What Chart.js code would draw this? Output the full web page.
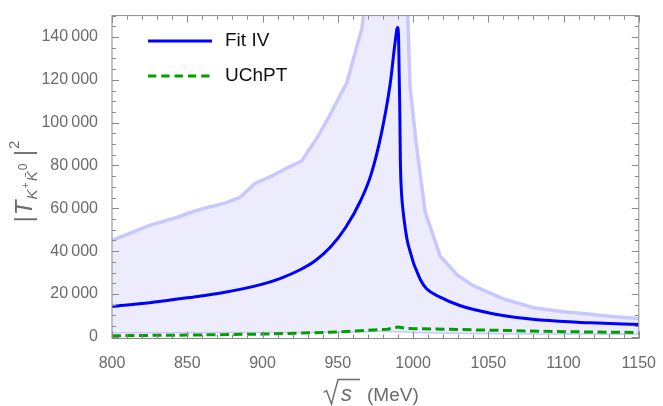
<!DOCTYPE html>
<html>
<head>
<meta charset="utf-8">
<script src="https://cdn.jsdelivr.net/npm/chart.js@4"></script>
<style>
  html, body { margin: 0; padding: 0; background: #fff; }
  #wrap { width: 663px; height: 406px; }
</style>
</head>
<body>
<div id="wrap"><canvas id="chart" width="663" height="406"></canvas></div>
<script>
// error band (upper / lower edge), same x grid for both
const bandX  = [800, 825, 843, 854, 864, 875, 885, 895, 906, 916, 926, 935, 939, 945, 949, 956, 966, 968, 980, 996, 998, 1002, 1008, 1018, 1027, 1029, 1040, 1060, 1080, 1100, 1115, 1130, 1150];
const bandHi = [45000, 52000, 55700, 58500, 60500, 62400, 65100, 71600, 75000, 78800, 82100, 91600, 96200, 103900, 109300, 118600, 144000, 155000, 300000, 160000, 117000, 90900, 58500, 37700, 30800, 29000, 23900, 17700, 13600, 11700, 10800, 9600, 8500];
const bandLo = [2200, 2200, 2200, 2200, 2300, 2300, 2300, 2300, 2300, 2400, 2400, 2400, 2500, 2500, 2500, 2600, 2700, 2700, 2900, 2600, 2500, 2300, 2200, 2100, 2000, 2000, 1900, 1800, 1700, 1600, 1600, 1500, 1500];

// Fit IV
const fitX = [800, 825, 850, 875, 900, 912, 925, 935, 945, 955, 965, 972, 979, 985, 988, 989.7, 990.4, 991.3, 991.6, 992.2, 993.2, 994.8, 996.3, 998, 1000.6, 1002.4, 1005, 1009, 1018, 1031, 1053, 1075, 1097, 1118, 1150];
const fitY = [14200, 15900, 18200, 20800, 24600, 27300, 31300, 35500, 41800, 50800, 63300, 75500, 95000, 119000, 137000, 144400, 140000, 100000, 82000, 69000, 60000, 50800, 44500, 40000, 33900, 30800, 26500, 22400, 18500, 14600, 10800, 8500, 7200, 6500, 5700];

// UChPT
const uchX = [800, 850, 900, 950, 983, 990, 996, 1050, 1100, 1150];
const uchY = [500, 800, 1250, 2200, 3550, 4600, 3900, 3100, 2400, 2000];

const xTicks = [800, 850, 900, 950, 1000, 1050, 1100, 1150];
const yTicks = [0, 20000, 40000, 60000, 80000, 100000, 120000, 140000];

const FONT = '"Liberation Sans", Arial, Helvetica, sans-serif';
const GRAY = '#6b6b6b';
const FRAME = '#8a8a8a';

const pts = (xs, ys) => xs.map((x, i) => ({ x, y: ys[i] }));
const fmt = v => String(v).replace(/\B(?=(\d{3})+(?!\d))/g, '\u2009');

// inward frame ticks + frame + legend + axis titles
const decor = {
  id: 'decor',
  afterDraw(chart) {
    const { ctx, chartArea: a, scales: { x, y } } = chart;
    ctx.save();
    ctx.strokeStyle = FRAME;
    ctx.lineWidth = 1;
    ctx.strokeRect(a.left, a.top, a.right - a.left, a.bottom - a.top);
    ctx.beginPath();
    for (let v = 800; v <= 1150; v += 10) {
      const px = Math.round(x.getPixelForValue(v)) + 0.5;
      const len = v % 50 === 0 ? 7 : 4;
      ctx.moveTo(px, a.bottom); ctx.lineTo(px, a.bottom - len);
      ctx.moveTo(px, a.top); ctx.lineTo(px, a.top + len);
    }
    for (let v = 0; v <= 150000; v += 5000) {
      const py = Math.round(y.getPixelForValue(v)) + 0.5;
      const len = v % 20000 === 0 ? 7 : 4;
      ctx.moveTo(a.left, py); ctx.lineTo(a.left + len, py);
      ctx.moveTo(a.right, py); ctx.lineTo(a.right - len, py);
    }
    ctx.stroke();

    // legend
    ctx.lineWidth = 3;
    ctx.strokeStyle = '#0000ff';
    ctx.beginPath(); ctx.moveTo(148, 41); ctx.lineTo(212, 41); ctx.stroke();
    ctx.strokeStyle = '#00a000';
    ctx.setLineDash([8.3, 5]);
    ctx.beginPath(); ctx.moveTo(148, 76); ctx.lineTo(212, 76); ctx.stroke();
    ctx.setLineDash([]);
    ctx.fillStyle = '#111';
    ctx.font = '19px ' + FONT;
    ctx.textBaseline = 'middle';
    ctx.fillText('Fit IV', 225, 41);
    ctx.fillText('UChPT', 225, 76);

    // x title: sqrt(s) (MeV)
    ctx.fillStyle = GRAY;
    ctx.strokeStyle = GRAY;
    ctx.textBaseline = 'alphabetic';
    ctx.lineWidth = 1.4;
    ctx.beginPath();
    ctx.moveTo(323.5, 392.5); ctx.lineTo(326.5, 390.5); ctx.lineTo(331.5, 404);
    ctx.lineTo(338, 379.5); ctx.lineTo(360, 379.5);
    ctx.stroke();
    ctx.font = 'italic 22px ' + FONT;
    ctx.fillText('s', 341, 401);
    ctx.font = '19px ' + FONT;
    ctx.fillText('(MeV)', 367, 401);

    // y title: |T_{K+ K0bar}|^2
    ctx.translate(32, 181);
    ctx.rotate(-Math.PI / 2);
    const parts = [
      ['|', '23px ', 0], ['T', 'italic 24px ', 0],
      ['K', 'italic 15px ', 5], ['+', '11px ', -3], ['K\u0304', 'italic 15px ', 5], ['0', '12px ', -5],
      [' |', '23px ', 0], ['2', '15px ', -13]
    ];
    let w = 0;
    parts.forEach(p => { ctx.font = p[1] + FONT; w += ctx.measureText(p[0]).width + 1; });
    let cx = -w / 2;
    parts.forEach(p => {
      ctx.font = p[1] + FONT;
      ctx.fillText(p[0], cx, p[2]);
      cx += ctx.measureText(p[0]).width + 1;
    });
    ctx.restore();
  }
};

new Chart(document.getElementById('chart'), {
  type: 'line',
  data: {
    datasets: [
      { label: 'lo', data: pts(bandX, bandLo), borderColor: 'rgba(200,200,255,1)', borderWidth: 3, pointRadius: 0, fill: false, order: 3 },
      { label: 'hi', data: pts(bandX, bandHi), borderColor: 'rgba(200,200,255,1)', borderWidth: 3.5, pointRadius: 0, fill: '-1', backgroundColor: 'rgb(236,236,252)', order: 2 },
      { label: 'UChPT', data: pts(uchX, uchY), borderColor: '#00a000', borderWidth: 3, borderDash: [9, 4.5], pointRadius: 0, fill: false, order: 1 },
      { label: 'Fit IV', data: pts(fitX, fitY), borderColor: '#0000ff', borderWidth: 3, pointRadius: 0, fill: false, cubicInterpolationMode: 'monotone', order: 0 }
    ]
  },
  options: {
    responsive: false,
    animation: false,
    layout: { padding: { top: 12, right: 19, left: 0, bottom: 0 } },
    plugins: { legend: { display: false }, tooltip: { enabled: false } },
    scales: {
      x: {
        type: 'linear', min: 800, max: 1150,
        grid: { display: false }, border: { display: false },
        afterBuildTicks: s => { s.ticks = xTicks.map(value => ({ value })); },
        afterFit: s => { s.height = 67.5; },
        ticks: { color: GRAY, font: { family: FONT, size: 16 }, padding: 7, maxRotation: 0, autoSkip: false, callback: v => String(v) }
      },
      y: {
        type: 'linear', min: -800, max: 150000,
        grid: { display: false }, border: { display: false },
        afterBuildTicks: s => { s.ticks = yTicks.map(value => ({ value })); },
        afterFit: s => { s.width = 112; },
        ticks: { color: GRAY, font: { family: FONT, size: 16 }, padding: 6, callback: v => fmt(v) }
      }
    }
  },
  plugins: [decor]
});
</script>
</body>
</html>
